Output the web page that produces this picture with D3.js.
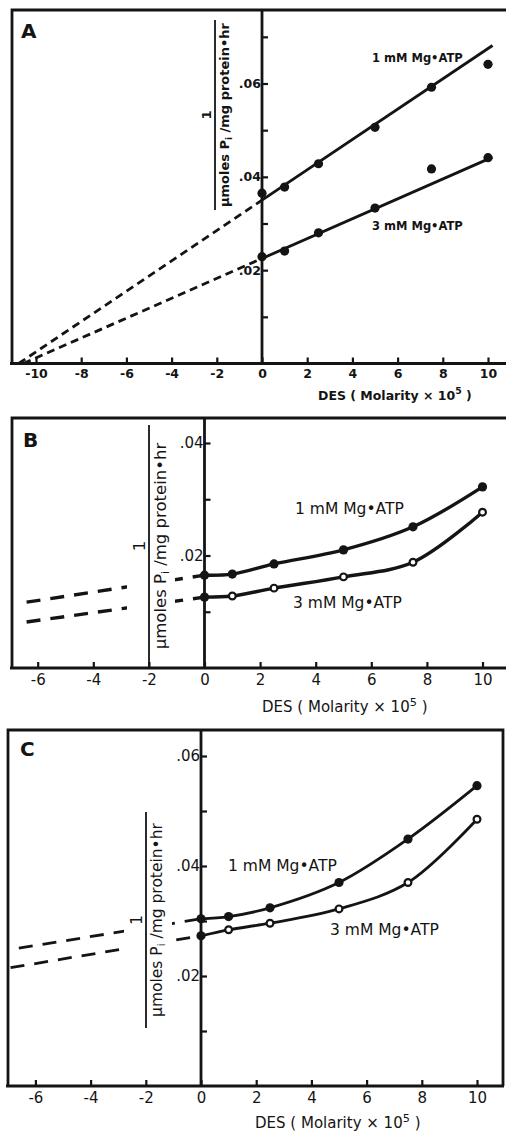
<!DOCTYPE html>
<html>
<head>
<meta charset="utf-8">
<script src="https://cdn.jsdelivr.net/npm/d3@7"></script>
<style>
  body { margin: 0; background: #fff; }
  svg text { font-family: "DejaVu Sans", sans-serif; fill: #141414; }
</style>
</head>
<body>
<svg id="fig" width="506" height="1131"></svg>
<script>
// DES concentration (Molarity x 10^5)
const desConc = [0, 1, 2.5, 5, 7.5, 10];

// 1 / (umoles Pi / mg protein.hr)
const a1mM = [0.0365, 0.0378, 0.0428, 0.0506, 0.0592, 0.0641];
const a3mM = [0.0229, 0.0241, 0.0280, 0.0333, 0.0417, 0.0441];
const b1mM = [0.0165, 0.0167, 0.0185, 0.0210, 0.0251, 0.0322];
const b3mM = [0.0126, 0.0128, 0.0142, 0.0162, 0.0188, 0.0277];
const c1mM = [0.0304, 0.0308, 0.0324, 0.0370, 0.0449, 0.0546];
const c3mM = [0.0273, 0.0284, 0.0296, 0.0322, 0.0370, 0.0485];

// panel A regression lines: [intercept, slope]
const aFit1mM = [0.0350, 0.00325];
const aFit3mM = [0.0225, 0.00213];
// B and C dashed extrapolations: [intercept, slope, from x]
const bExt1mM = [0.0165, 0.00075, -6.4];
const bExt3mM = [0.0126, 0.00069, -6.4];
const cExt1mM = [0.0304, 0.00081, -6.6];
const cExt3mM = [0.0273, 0.00084, -6.9];

const seriesNames = ["1 mM Mg\u2022ATP", "3 mM Mg\u2022ATP"];
const xTicksA = [-10, -8, -6, -4, -2, 0, 2, 4, 6, 8, 10];
const xTicksBC = [-6, -4, -2, 0, 2, 4, 6, 8, 10];
const yTicksA = [0.02, 0.04, 0.06], yMinorA = [0.01, 0.03, 0.05, 0.07];
const yTicksB = [0.02, 0.04], yMinorB = [0.01, 0.03];
const yTicksC = [0.02, 0.04, 0.06], yMinorC = [0.01, 0.03, 0.05];

const svg = d3.select("#fig");
const ink = "#141414";

var drawPanel = function (p) {
    let g = svg.append("g");
    let x = d3.scaleLinear().domain([0, 10]).range(p.xRange);
    let y = d3.scaleLinear().domain([0, p.yMax]).range(p.yRange);
    let base = p.yRange[0];
    let yl = p.yLabel;

    // dashed / extrapolated part
    p.dashed.forEach(e => {
        let x1 = e.length > 2 ? e[2] : -e[0] / e[1];
        g.append("path")
            .attr("d", d3.line().x(d => x(d)).y(d => y(e[0] + e[1] * d))([x1, 0]))
            .attr("fill", "none").attr("stroke", ink)
            .attr("stroke-width", p.lineW).attr("stroke-dasharray", p.dash);
    });

    // the dashes stop where the y label sits
    if (yl.mask) {
        g.append("rect").attr("x", yl.x - 22).attr("width", 48)
            .attr("y", yl.y0).attr("height", yl.y1 - yl.y0).attr("fill", "#fff");
    }

    // frame
    let frame = [[p.left, base], [p.left, p.top], [p.right, p.top]];
    if (p.rightBorder) frame.push([p.right, base]);
    g.append("path")
        .attr("d", d3.line()(frame))
        .attr("fill", "none").attr("stroke", ink).attr("stroke-width", p.frameW);
    g.append("line")
        .attr("x1", p.left - 2).attr("x2", p.right + 1)
        .attr("y1", base).attr("y2", base)
        .attr("stroke", ink).attr("stroke-width", p.frameW);

    // x axis, ticks pointing in
    let xAxis = d3.axisBottom(x)
        .tickValues(p.xTicks)
        .tickSizeInner(-6).tickSizeOuter(0).tickPadding(p.tickPad)
        .tickFormat(d => (d < 0 ? "-" : "") + Math.abs(d));
    let xa = g.append("g").attr("transform", "translate(0," + base + ")").call(xAxis);
    xa.select(".domain").remove();
    xa.selectAll("line").attr("stroke", ink).attr("stroke-width", 2.2);
    xa.selectAll("text").attr("font-family", null).attr("font-size", p.fs)
        .attr("font-weight", p.bold ? "bold" : null).attr("fill", ink);

    // y axis on x = 0, labels left, ticks right
    let yFmt = d => d3.format(".2f")(d).replace(/^0/, "");
    let ya = g.append("g").attr("transform", "translate(" + x(0) + ",0)")
        .call(d3.axisLeft(y).tickValues(p.yTicks).tickSizeInner(-6).tickSizeOuter(0)
            .tickPadding(1).tickFormat(yFmt));
    let ym = g.append("g").attr("transform", "translate(" + x(0) + ",0)")
        .call(d3.axisLeft(y).tickValues(p.yMinor).tickSizeInner(-6).tickSizeOuter(0)
            .tickFormat(""));
    ya.select(".domain").remove();
    ym.select(".domain").remove();
    g.selectAll(".tick line").attr("stroke", ink).attr("stroke-width", 2.2);
    ya.selectAll("text").attr("font-family", null).attr("font-size", p.fs)
        .attr("font-weight", p.bold ? "bold" : null).attr("fill", ink);

    // solid lines
    if (p.fits) {
        p.fits.forEach(e => {
            g.append("path")
                .attr("d", d3.line().x(d => x(d)).y(d => y(e[0] + e[1] * d))([0, 10.2]))
                .attr("fill", "none").attr("stroke", ink).attr("stroke-width", p.lineW);
        });
    } else {
        p.series.forEach(s => {
            g.append("path")
                .attr("d", d3.line().curve(d3.curveCatmullRom).x((d, i) => x(desConc[i])).y(d => y(d))(s))
                .attr("fill", "none").attr("stroke", ink).attr("stroke-width", p.lineW);
        });
    }

    // zero axis
    g.append("line")
        .attr("x1", x(0)).attr("x2", x(0)).attr("y1", p.top).attr("y2", base)
        .attr("stroke", ink).attr("stroke-width", p.frameW);

    // markers
    p.series.forEach((s, k) => {
        g.selectAll(null).data(s).enter().append("circle")
            .attr("cx", (d, i) => x(desConc[i]))
            .attr("cy", d => y(d))
            .attr("r", (d, i) => (k == 1 && p.openSecond && i > 0) ? 3.4 : 4.6)
            .attr("fill", (d, i) => (k == 1 && p.openSecond && i > 0) ? "#fff" : ink)
            .attr("stroke", ink)
            .attr("stroke-width", (d, i) => (k == 1 && p.openSecond && i > 0) ? 2.2 : 0);
    });

    // y label as a fraction: 1 over the units
    let cy = (yl.y0 + yl.y1) / 2;
    let lab = g.append("g").attr("transform", "translate(" + yl.x + "," + cy + ") rotate(-90)");
    lab.append("line").attr("x1", -(yl.y1 - yl.y0) / 2).attr("x2", (yl.y1 - yl.y0) / 2)
        .attr("stroke", ink).attr("stroke-width", 1.8);
    lab.append("text").attr("y", -4).attr("text-anchor", "middle")
        .attr("font-size", yl.fs).attr("font-weight", p.bold ? "bold" : null).text("1");
    let t = lab.append("text").attr("y", yl.fs * 1.05).attr("text-anchor", "middle")
        .attr("font-size", yl.fs).attr("font-weight", p.bold ? "bold" : null);
    t.append("tspan").text("\u03bcmoles P");
    t.append("tspan").attr("font-size", yl.fs * 0.65).attr("dy", 3).text("i");
    t.append("tspan").attr("dy", -3).text(" /mg protein\u2022hr");

    // panel letter
    g.append("text").attr("x", p.letter[1]).attr("y", p.letter[2])
        .attr("font-size", 20).attr("font-weight", "bold").text(p.letter[0]);

    // series names
    p.names.forEach((n, k) => {
        g.append("text").attr("x", n[0]).attr("y", n[1])
            .attr("font-size", p.nameFs).attr("font-weight", p.bold ? "bold" : null)
            .text(seriesNames[k]);
    });

    // x title
    let xt = g.append("text").attr("x", p.xTitle[0]).attr("y", p.xTitle[1])
        .attr("font-size", p.fs).attr("font-weight", p.bold ? "bold" : null);
    xt.append("tspan").text("DES ( Molarity \u00d7 10");
    xt.append("tspan").attr("dy", -6).attr("font-size", p.fs * 0.75).text("5");
    xt.append("tspan").attr("dy", 6).text(" )");
};

drawPanel({
    left: 12, right: 507, top: 10, rightBorder: false,
    xRange: [262, 488], yMax: 0.06, yRange: [363.5, 83.5],
    xTicks: xTicksA, yTicks: yTicksA, yMinor: yMinorA,
    series: [a1mM, a3mM], fits: [aFit1mM, aFit3mM], dashed: [aFit1mM, aFit3mM],
    openSecond: false, bold: true, fs: 12.5, nameFs: 11.5, tickPad: 6,
    lineW: 2.8, frameW: 2.8, dash: "8,5",
    yLabel: { x: 215, y0: 20, y1: 210, fs: 13, mask: false },
    letter: ["A", 21, 38],
    names: [[372, 62], [372, 230]],
    xTitle: [318, 400]
});

drawPanel({
    left: 12, right: 507, top: 418, rightBorder: false,
    xRange: [204.5, 482.5], yMax: 0.04, yRange: [668, 443],
    xTicks: xTicksBC, yTicks: yTicksB, yMinor: yMinorB,
    series: [b1mM, b3mM], dashed: [bExt1mM, bExt3mM],
    openSecond: true, bold: false, fs: 15, nameFs: 15.5, tickPad: 6,
    lineW: 3.4, frameW: 2.8, dash: "14,10",
    yLabel: { x: 149, y0: 425, y1: 667, fs: 16.5, mask: true },
    letter: ["B", 23, 447],
    names: [[295, 514], [293, 608]],
    xTitle: [262, 712]
});

drawPanel({
    left: 8, right: 503, top: 730, rightBorder: true,
    xRange: [201, 477], yMax: 0.06, yRange: [1086, 756],
    xTicks: xTicksBC, yTicks: yTicksC, yMinor: yMinorC,
    series: [c1mM, c3mM], dashed: [cExt1mM, cExt3mM],
    openSecond: true, bold: false, fs: 15, nameFs: 15.5, tickPad: 6,
    lineW: 2.8, frameW: 2.8, dash: "14,10",
    yLabel: { x: 146, y0: 812, y1: 1028, fs: 15.5, mask: true },
    letter: ["C", 20, 756],
    names: [[228, 871], [330, 935]],
    xTitle: [255, 1128]
});
</script>
</body>
</html>
